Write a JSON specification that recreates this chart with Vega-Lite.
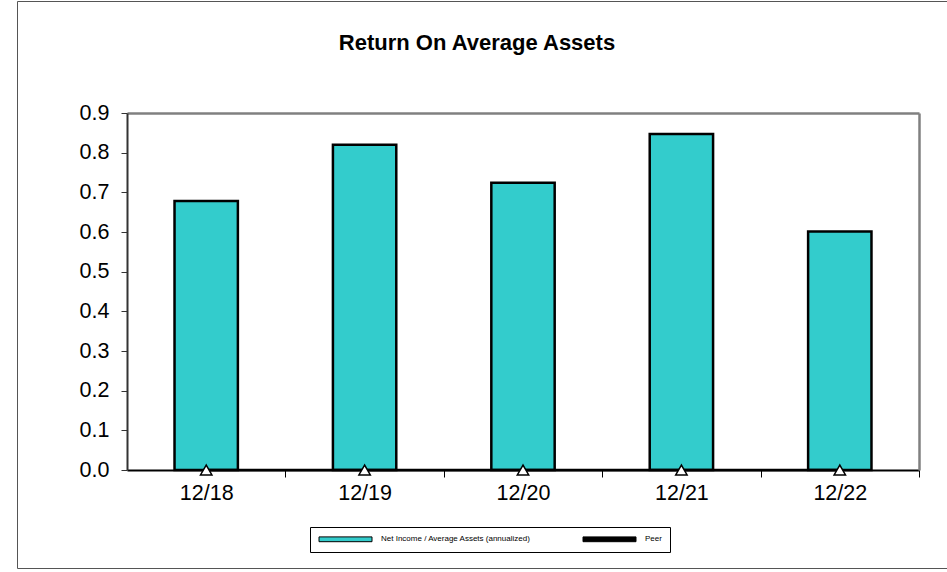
{
  "$schema": "https://vega.github.io/schema/vega-lite/v6.json",
  "width": 930,
  "height": 567,
  "autosize": {"type": "none"},
  "padding": {"left": 17, "top": 1, "right": 0, "bottom": 4},
  "background": "white",
  "title": {
    "text": "Return On Average Assets",
    "font": "Liberation Sans",
    "fontSize": 22,
    "fontWeight": "bold",
    "color": "black",
    "anchor": "middle",
    "frame": "group",
    "offset": -54,
    "dx": -5
  },
  "data": {
    "values": [
      {"period": "12/18", "roaa": 0.678, "peer": 0},
      {"period": "12/19", "roaa": 0.820, "peer": 0},
      {"period": "12/20", "roaa": 0.724, "peer": 0},
      {"period": "12/21", "roaa": 0.847, "peer": 0},
      {"period": "12/22", "roaa": 0.601, "peer": 0}
    ]
  },
  "layer": [
    {
      "mark": {"type": "bar", "stroke": "black", "strokeWidth": 2.5},
      "encoding": {
        "x": {
          "field": "period", "type": "nominal", "sort": null,
          "scale": {"range": [110, 902], "paddingInner": 0.6, "paddingOuter": 0.3},
          "axis": {
            "orient": "bottom", "offset": -98, "title": null, "labelAngle": 0,
            "labelFont": "Liberation Sans", "labelFontSize": 21.5, "labelColor": "black",
            "domainColor": "black", "domainWidth": 2, "tickColor": "black", "tickWidth": 1,
            "tickSize": 7, "tickOffset": 79.2, "labelOffset": -79.2, "labelPadding": 5, "grid": false
          }
        },
        "y": {
          "field": "roaa", "type": "quantitative",
          "scale": {"domain": [0, 0.9], "range": [469, 112], "nice": false},
          "axis": {
            "orient": "left", "offset": -110, "title": null,
            "values": [0, 0.1, 0.2, 0.3, 0.4, 0.5, 0.6, 0.7, 0.8, 0.9], "format": ".1f",
            "labelFont": "Liberation Sans", "labelFontSize": 21.5, "labelColor": "black",
            "domainColor": "#333333", "domainWidth": 2, "tickColor": "#333333", "tickWidth": 1,
            "tickSize": 6, "labelPadding": 12, "grid": false
          }
        },
        "color": {
          "datum": "Net Income / Average Assets (annualized)",
          "type": "nominal",
          "scale": {"domain": ["Net Income / Average Assets (annualized)", "Peer"], "range": ["#33CCCC", "#000000"]},
          "legend": {
            "orient": "none", "legendX": 293, "legendY": 526, "direction": "horizontal",
            "title": null, "fillColor": "white", "strokeColor": "black", "padding": 8,
            "labelFont": "Liberation Sans", "labelFontSize": 8, "labelColor": "black",
            "labelExpr": "datum.label == 'Peer' ? 'Peer\u00a0\u00a0\u00a0\u00a0\u00a0\u00a0\u00a0\u00a0\u00a0\u00a0\u00a0\u00a0\u00a0\u00a0\u00a0' : datum.label",
            "symbolType": "M-1,-0.8H16.67V0.8H-1Z", "symbolSize": 36,
            "symbolStrokeColor": "black", "symbolStrokeWidth": 1, "symbolOpacity": 1,
            "columnPadding": 50, "labelOffset": 55
          }
        }
      }
    },
    {
      "mark": {"type": "line", "color": "black", "strokeWidth": 2.5},
      "encoding": {
        "x": {"field": "period", "type": "nominal", "sort": null, "axis": null},
        "y": {"field": "peer", "type": "quantitative", "axis": null}
      }
    },
    {
      "mark": {"type": "point", "shape": "triangle-up", "filled": true, "fill": "white", "stroke": "black", "strokeWidth": 1.5, "size": 130, "opacity": 1},
      "encoding": {
        "x": {"field": "period", "type": "nominal", "sort": null, "axis": null},
        "y": {"field": "peer", "type": "quantitative", "axis": null}
      }
    },
    {
      "mark": {"type": "point", "opacity": 0},
      "encoding": {
        "x": {
          "field": "period", "type": "nominal", "sort": null,
          "axis": {"orient": "top", "offset": -112, "title": null, "labels": false, "ticks": false, "domainColor": "#808080", "domainWidth": 2.5, "grid": false}
        },
        "y": {
          "field": "peer", "type": "quantitative",
          "axis": {"orient": "right", "offset": -28, "title": null, "labels": false, "ticks": false, "domainColor": "#808080", "domainWidth": 2.5, "grid": false}
        }
      }
    }
  ],
  "resolve": {"axis": {"x": "independent", "y": "independent"}},
  "config": {
    "view": {"stroke": "#555555", "strokeWidth": 1},
    "axis": {"grid": false}
  }
}
